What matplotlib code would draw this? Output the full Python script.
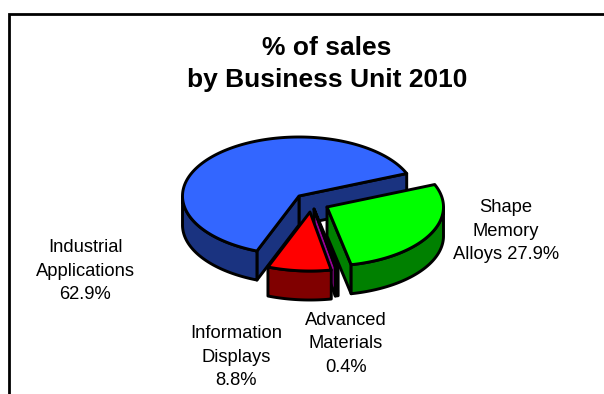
#!/usr/bin/env python3
"""Exploded 3D-style pie of sales share by business unit."""

import numpy as np
import matplotlib
matplotlib.use("Agg")
import matplotlib.pyplot as plt
from matplotlib.patches import Polygon

# clockwise order, starting from the upper right
units = ["Shape\nMemory\nAlloys", "Advanced\nMaterials", "Information\nDisplays", "Industrial\nApplications"]
shares = [27.9, 0.4, 8.8, 62.9]
top_colors = ["#00FF00", "#990099", "#FF0000", "#3366FF"]
side_colors = ["#008000", "#990099", "#800000", "#1A3380"]

# pixel layout of each wedge's apex and its label
apex = [(327, 207), (314, 209), (310, 212), (299, 196)]
label_pos = [(506, 231), (346, 344), (236, 357), (85, 271)]
label_seps = [" ", "\n", "\n", "\n"]

RX, RY = 116.5, 59.0
DEPTH = 29
START_ANGLE = 22.4
LW = 2.1


def rim(cx, cy, angles):
    """Points on the pie's elliptical rim for angles in degrees."""
    rad = np.radians(angles)
    return np.column_stack([cx + RX * np.cos(rad), cy - RY * np.sin(rad)])


def draw_wedge(ax, cx, cy, t0, t1, top, side):
    """Draw one extruded wedge spanning t0..t1 (degrees, counter-clockwise)."""
    style = dict(edgecolor="black", linewidth=LW, joinstyle="round")
    drop = np.array([0, DEPTH])

    # cut faces turned towards the viewer
    for edge, normal in ((t0, t0 - 90), (t1, t1 + 90)):
        if np.sin(np.radians(normal)) < 0:
            p = rim(cx, cy, [edge])[0]
            c = np.array([cx, cy])
            ax.add_patch(Polygon([c, p, p + drop, c + drop], facecolor=side, **style))

    # outer wall, only the lower half of the rim shows
    ts = np.linspace(t0, t1, 240)
    ts = ts[np.sin(np.radians(ts)) <= 0]
    if len(ts) > 1:
        arc = rim(cx, cy, ts)
        ax.add_patch(Polygon(np.vstack([arc, arc[::-1] + drop]), facecolor=side, **style))

    outline = np.vstack([[[cx, cy]], rim(cx, cy, np.linspace(t0, t1, 240))])
    ax.add_patch(Polygon(outline, facecolor=top, **style))


fig = plt.figure(figsize=(6.04, 3.94), dpi=100)
plt.rcParams["font.family"] = ["Liberation Sans", "DejaVu Sans"]
ax = fig.add_axes([0, 0, 1, 1])
ax.set_xlim(0, 604)
ax.set_ylim(394, 0)
ax.axis("off")

# chart frame runs off the right and bottom edges
ax.plot([8.5, 8.5, 610], [400, 13.5, 13.5], color="black", lw=2.0, solid_joinstyle="miter")

sweeps = np.array(shares) / sum(shares) * 360
ends = START_ANGLE - np.concatenate([[0], np.cumsum(sweeps)])

# back to front, the red wedge sits over the thin purple one
for i in [3, 0, 1, 2]:
    cx, cy = apex[i]
    draw_wedge(ax, cx, cy, ends[i + 1], ends[i], top_colors[i], side_colors[i])

ax.text(327, 64, "% of sales\nby Business Unit 2010", ha="center", va="center",
        fontsize=19, fontweight="bold", linespacing=1.45, color="black")

for name, share, sep, (x, y) in zip(units, shares, label_seps, label_pos):
    ax.text(x, y, f"{name}{sep}{share}%", ha="center", va="center",
            fontsize=13.2, linespacing=1.48, color="black")

fig.savefig("out.png", dpi=100)
